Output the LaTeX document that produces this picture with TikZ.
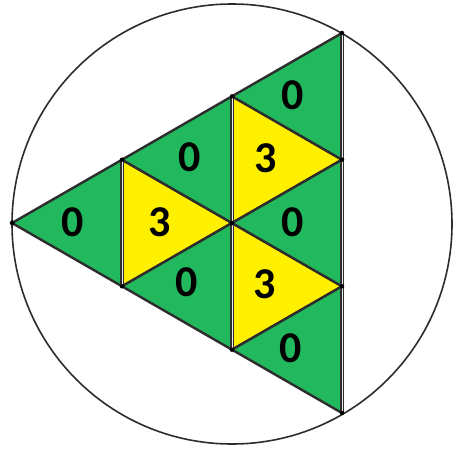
\documentclass[tikz,border=0pt]{standalone}
\usepackage{fontspec}
\setmainfont{Carlito}
\definecolor{tgreen}{RGB}{34,185,94}
\definecolor{tyellow}{RGB}{255,240,0}
\definecolor{edge}{RGB}{45,45,45}
\begin{document}
\begin{tikzpicture}[x=1pt,y=-1pt,
  tri/.style={draw=edge,line width=2.4pt,line join=round},
  gtri/.style={tri,fill=tgreen},
  ytri/.style={tri,fill=tyellow},
  vline/.style={draw=edge,line width=3.6pt},
  vgap/.style={draw=white!85!gray,line width=1pt},
  num/.style={font=\fontsize{44}{44}\selectfont\bfseries,text=black,inner sep=0pt},
  dot/.style={circle,fill=black,inner sep=0pt,minimum size=4.5pt}]
\useasboundingbox (0,0) rectangle (460,452);
\fill[white] (0,0) rectangle (460,452);
\node[draw=edge,line width=1.6pt,circle,minimum size=440pt,inner sep=0pt] (circ) at (232,224) {};
% grid points
\coordinate (L) at (12,223);
\coordinate (a1) at (122,159.7);
\coordinate (b1) at (122,286.3);
\coordinate (a2) at (232,96.3);
\coordinate (c) at (232,223);
\coordinate (b2) at (232,349.7);
\coordinate (r0) at (342,33);
\coordinate (r1) at (342,159.7);
\coordinate (r2) at (342,286.3);
\coordinate (r3) at (342,413);
% triangles
\path[gtri] (L) -- (a1) -- (b1) -- cycle;
\path[ytri] (a1) -- (b1) -- (c) -- cycle;
\path[gtri] (a1) -- (a2) -- (c) -- cycle;
\path[gtri] (b1) -- (c) -- (b2) -- cycle;
\path[ytri] (a2) -- (c) -- (r1) -- cycle;
\path[ytri] (c) -- (b2) -- (r2) -- cycle;
\path[gtri] (a2) -- (r0) -- (r1) -- cycle;
\path[gtri] (c) -- (r1) -- (r2) -- cycle;
\path[gtri] (b2) -- (r2) -- (r3) -- cycle;
% vertical lines with light gap
\foreach \p/\q in {a1/b1,a2/b2,r0/r3}{
  \draw[vline] (\p) -- (\q);
  \draw[vgap] ([yshift=3pt]\p) -- ([yshift=-3pt]\q);
}
% vertices
\foreach \p in {L,a1,b1,a2,c,b2,r0,r1,r2,r3}{\node[dot] at (\p) {};}
% labels
\node[num] (n1) at (73,222) {0};
\node[num] (n2) at (160,222) {3};
\node[num] (n3) at (190,157) {0};
\node[num] (n4) at (187,282) {0};
\node[num] (n5) at (293,95) {0};
\node[num] (n6) at (266,158) {3};
\node[num] (n7) at (293,222) {0};
\node[num] (n8) at (265,284) {3};
\node[num] (n9) at (291,348) {0};
\end{tikzpicture}
\end{document}
